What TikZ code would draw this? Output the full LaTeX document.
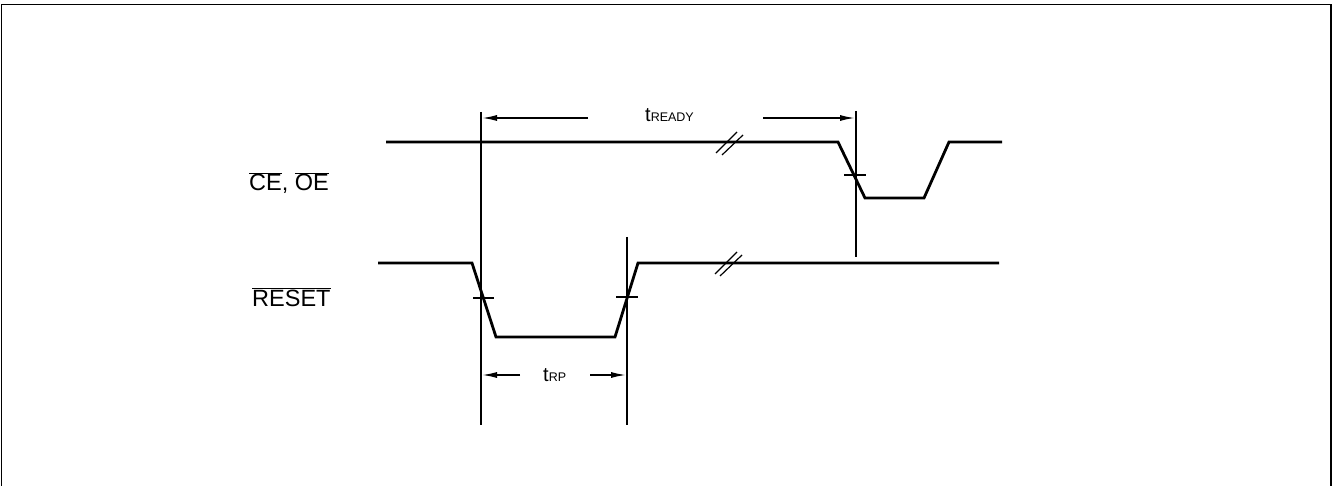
\documentclass[tikz,border=0pt]{standalone}
\usepackage{fontspec}
\setmainfont{Liberation Sans}
\usetikzlibrary{arrows.meta}
\newcommand{\ovbar}[1]{$\overline{\hbox{#1}}$}
\tikzset{
  sig/.style={line width=2.8pt, line join=miter},
  vline/.style={line width=2pt},
  tick/.style={line width=1.6pt},
  brk/.style={line width=1.2pt},
  dim/.style={line width=2pt, -{Latex[length=16pt,width=6pt]}},
  frame/.style={line width=1.8pt},
  lbl/.style={inner sep=0pt, anchor=base west},
}
\begin{document}
\begin{tikzpicture}[x=1pt,y=-1pt]
\useasboundingbox (0,0) rectangle (1337,486);
% frame
\draw[frame] (1.5,490) -- (1.5,4.5) -- (1331,4.5) -- (1331,490);
% labels
\node[lbl] (lce) at (249,191) {\fontsize{23.5}{24}\selectfont \ovbar{CE}, \ovbar{OE}};
\node[lbl] (lrs) at (252,306) {\fontsize{23.5}{24}\selectfont \ovbar{RESET}};
% CE/OE signal
\draw[sig] (386,142) -- (838,142) -- (865,198) -- (924,198) -- (949,142) -- (1002,142);
% RESET signal
\draw[sig] (378,263) -- (472,263) -- (496,337) -- (615,337) -- (638,263) -- (999,263);
% break marks
\draw[brk] (716,153) -- (737,132);
\draw[brk] (722,155) -- (743,135);
\draw[brk] (715,274) -- (737,252);
\draw[brk] (720,276) -- (742,255);
% vertical reference lines
\coordinate (v1t) at (481,112);
\coordinate (v1b) at (481,425);
\coordinate (v2t) at (627,237);
\coordinate (v2b) at (627,425);
\coordinate (v3t) at (856,111);
\coordinate (v3b) at (856,257);
\draw[vline] (v1t) -- (v1b);
\draw[vline] (v2t) -- (v2b);
\draw[vline] (v3t) -- (v3b);
% ticks
\draw[tick] (844,175) -- (866,175);
\draw[tick] (473,298) -- (494,298);
\draw[tick] (616,297) -- (638,297);
% tREADY
\coordinate (ra) at (588,118);
\coordinate (rb) at (763,118);
\draw[dim] (ra) -- (v1t |- ra);
\draw[dim] (rb) -- (v3t |- rb);
\node[lbl] (tready) at (645,122) {{\fontsize{20}{20}\selectfont t}{\fontsize{12.5}{13}\selectfont READY}};
% tRP
\coordinate (pa) at (520,375);
\coordinate (pb) at (590,375);
\draw[dim] (pa) -- (v1t |- pa);
\draw[dim] (pb) -- (v2t |- pb);
\node[lbl] (trp) at (543,381) {{\fontsize{20}{20}\selectfont t}{\fontsize{12.5}{13}\selectfont RP}};
\end{tikzpicture}
\end{document}
